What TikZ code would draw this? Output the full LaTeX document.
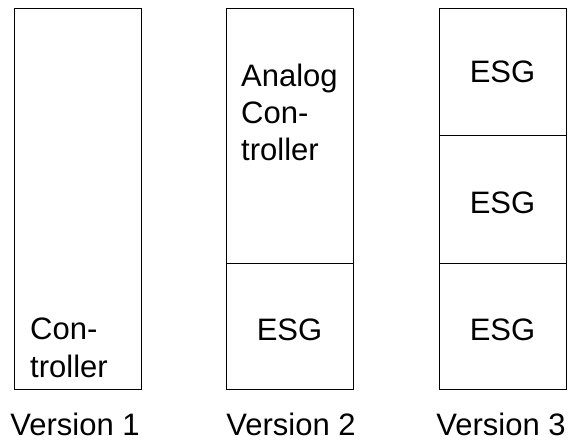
\documentclass[tikz,border=0pt]{standalone}
\usepackage{fontspec}
\setmainfont{Liberation Sans}
\begin{document}
\begin{tikzpicture}[x=1pt,y=-1pt,
  cell/.style={draw=black, line width=1.1pt, rectangle, inner sep=0pt,
    anchor=north west, minimum width=127pt},
  txt/.style={font=\fontsize{31}{37.5}\selectfont, inner sep=0pt, align=left},
  caption/.style={font=\fontsize{31}{38}\selectfont, inner sep=0pt, anchor=base}]
\useasboundingbox (0,0) rectangle (576,441);

% Version 1: a single controller block
\node[cell, minimum height=381pt] (v1) at (14,8) {};
\node[txt, anchor=base west] (v1t) at (30,377) {Con-\\troller};
\node[caption] (c1) at (75,435) {Version 1};

% Version 2: analog controller on top of one ESG
\node[cell, minimum height=255pt] (v2a) at (226,8) {};
\node[cell, minimum height=126pt] (v2b) at (226,263) {};
\node[txt, anchor=base west] (v2at) at (241,161) {Analog\\Con-\\troller};
\node[caption] (v2bt) at (289.5,340) {ESG};
\node[caption] (c2) at (291,435) {Version 2};

% Version 3: three stacked ESGs
\node[cell, minimum height=127pt] (v3a) at (439,8) {};
\node[cell, minimum height=128pt] (v3b) at (439,135) {};
\node[cell, minimum height=126pt] (v3c) at (439,263) {};
\node[caption] (v3at) at (502.5,83) {ESG};
\node[caption] (v3bt) at (502.5,213) {ESG};
\node[caption] (v3ct) at (502.5,340) {ESG};
\node[caption] (c3) at (501,435) {Version 3};
\end{tikzpicture}
\end{document}
